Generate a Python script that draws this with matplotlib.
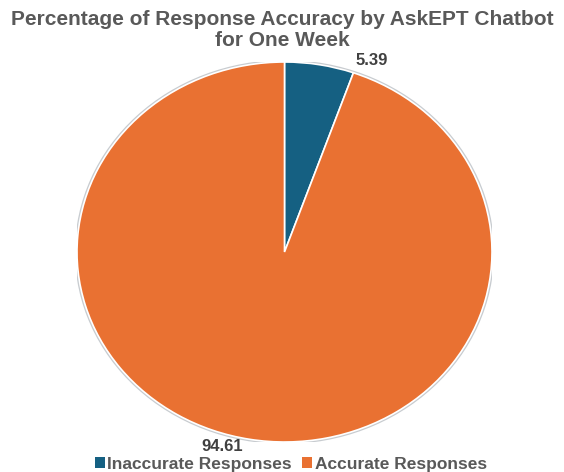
import matplotlib
matplotlib.use("Agg")
import matplotlib.pyplot as plt
from matplotlib.patches import Ellipse, Patch

categories = ["Inaccurate Responses", "Accurate Responses"]
values = [5.39, 94.61]
colors = ["#156082", "#E97132"]

plt.rcParams['font.family'] = ['Liberation Sans', 'DejaVu Sans']

fig = plt.figure(figsize=(5.64, 4.72), dpi=100)
W, H = 564, 472
cx, cy, rx, ry = 284.5, 252, 207.5, 190
ax = fig.add_axes([(cx - rx) / W, (H - cy - ry) / H, 2 * rx / W, 2 * ry / H])

# subtle grey outline around the pie
ax.add_patch(Ellipse((0, 0), 2.01, 2.01, facecolor="none", edgecolor="#C8CCD0",
                     linewidth=1.6, zorder=0))
wedges, _ = ax.pie(values, colors=colors, startangle=90, counterclock=False,
                   radius=1, wedgeprops=dict(edgecolor="white", linewidth=1.2))
ax.set_xlim(-1, 1)
ax.set_ylim(-1, 1)
ax.set_aspect('auto')
ax.axis('off')

# data labels (outside end)
label_pos = [(0.42, 1.01), (-0.30, -1.022)]
for v, (lx, ly) in zip(values, label_pos):
    ax.text(lx, ly, f"{v:.2f}", ha="center", va="center", fontsize=12,
            fontweight="bold", color="#404040", clip_on=False)

fig.text(0.5, (H - 30) / H, "Percentage of Response Accuracy by AskEPT Chatbot\nfor One Week",
         ha="center", va="center", fontsize=15, fontweight="bold", color="#595959",
         linespacing=1.08)

handles = [Patch(facecolor=c, edgecolor="none") for c in colors]
leg = fig.legend(handles, categories, loc="center", bbox_to_anchor=(291 / W, (H - 464) / H),
                 ncol=2, frameon=False, handlelength=0.55, handleheight=0.55,
                 handletextpad=0.15, columnspacing=0.6, borderaxespad=0, borderpad=0,
                 prop=dict(size=12.5, weight="bold"))
for t in leg.get_texts():
    t.set_color("#595959")

fig.savefig("out.png", dpi=100)
